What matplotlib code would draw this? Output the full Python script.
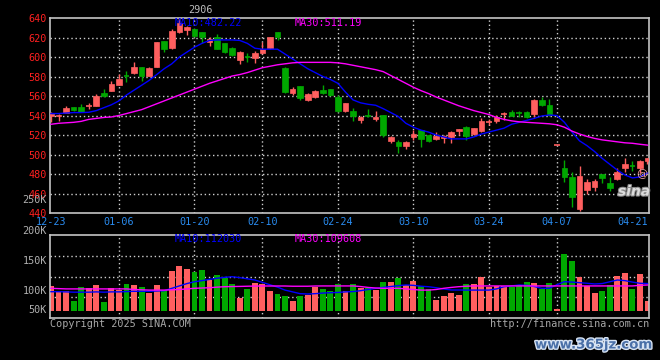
import matplotlib
matplotlib.use("Agg")
import matplotlib.pyplot as plt
import matplotlib.transforms as mtransforms
import matplotlib.patheffects as pe
from matplotlib.patches import Rectangle

# ---- data (one candle per trading day, 12-23 .. 04-22) ----
opens = [540, 539.5, 543, 548.4, 548.4, 549.5, 550, 563.4, 565, 571.3,
         580.8, 583.6, 589.7, 581, 590, 616.4, 609.5, 626, 627.7, 628.4,
         625.3, 615, 620.8, 614, 609.5, 597, 600, 599.3, 603.8, 609,
         626, 589, 562.8, 570.3, 556, 559.3, 566.5, 567.2, 559, 544.6,
         545, 535.4, 540, 536.4, 540.5, 514, 513, 508.7, 517.6, 525,
         520, 515.6, 517.2, 517.6, 524.5, 528, 521, 524, 533.3, 534.7,
         540.8, 543.3, 542.4, 544, 541.2, 556, 550.8, 509.7, 486.5, 476.6,
         443.8, 463.6, 467, 480, 470.5, 475, 486.5, 488.4, 486, 493.3]
closes = [542, 540.5, 547.4, 545.6, 544, 550.3, 560, 560, 572.3, 577.4,
          580.2, 589.7, 580.2, 589, 615, 608, 626.7, 634.6, 631, 621.5,
          620.8, 618.5, 608.2, 605.4, 602, 605.4, 599.5, 604.4, 608.5, 620.8,
          621, 564, 567.2, 557.6, 562, 565.4, 563, 561, 545, 552.5,
          539, 538.2, 539.6, 538.8, 520, 518.3, 508.7, 513, 521, 515.6,
          514.2, 519.3, 519, 523.4, 526, 519, 527, 534.4, 534, 538.8,
          541.4, 539.5, 542, 538, 556, 550.8, 540.5, 509.7, 476.6, 456.7,
          478, 471.5, 473.2, 476.2, 466, 482.4, 490, 488, 493.3, 496]
highs = [544, 542, 549.7, 548.4, 551.5, 553, 561.7, 567, 575.7, 582.2,
         585.6, 594.9, 590, 589.5, 615.5, 616.4, 628.7, 639.7, 632, 629,
         626, 620.8, 623.3, 614.5, 610, 606, 603.8, 606, 615, 621,
         626, 590, 569, 570.3, 563, 566, 571, 567.5, 561, 553,
         548, 539, 546.4, 545, 541, 519, 514.5, 514, 525, 525.5,
         520.5, 523, 520, 524, 526.5, 529.5, 527.5, 537, 536, 540.5,
         543.2, 545.5, 544.5, 544.5, 557, 558.5, 556.6, 509.7, 494.4, 482.4,
         488.2, 474.6, 474.5, 480.5, 476.6, 486, 496, 493.3, 494.5, 496.5]
lows = [533, 534.5, 543, 544.3, 543.5, 547, 550, 559.3, 565, 571,
        574.7, 583, 575.7, 580.5, 589.5, 605.4, 608, 624.5, 622.6, 621,
        614.7, 611.6, 608, 603.8, 601, 592.5, 595.2, 594, 603, 608.5,
        617.4, 563, 561, 556, 555, 558, 562, 560.5, 544, 544,
        534.7, 532.6, 538.2, 534.7, 518.3, 512, 501.8, 506, 515, 507.4,
        513, 515, 511.5, 511.5, 520, 515, 520.5, 523.5, 530, 532.5,
        535.5, 539, 538.2, 537.5, 538.2, 550, 540, 509.7, 472, 446.5,
        442.4, 459.5, 462.5, 471, 462.8, 474, 482.4, 483, 481, 490.5]
ma10 = [542, 542, 542.5, 543, 543, 543.3, 545, 548, 551, 555,
        561, 566, 571, 576, 582, 588, 593, 600, 605, 610,
        614, 617, 617.5, 617.5, 617.5, 617, 614, 609, 608, 608,
        608, 603, 598, 593, 588, 584, 580, 577, 573, 564,
        556, 553, 551.5, 550.5, 547, 543, 539, 532, 528, 525,
        523, 520, 518, 516, 516, 516, 518, 521, 523, 525,
        527, 531, 533, 535, 537, 539.5, 540.5, 540, 533, 523,
        514, 509, 503, 496, 490, 484, 479, 476, 477, 481]
ma30 = [531, 532, 532.5, 533, 534, 536, 537, 538, 538.5, 540,
        542, 544, 546, 549, 552, 555, 558, 561, 564, 567,
        570, 573, 575.5, 578, 580.5, 582, 584, 586.5, 589, 590.5,
        592, 593, 594, 594.5, 594.5, 594.5, 594.5, 594.5, 594, 593,
        591.5, 590, 588.5, 587, 585, 581, 577, 573, 569, 565.5,
        562.5, 559, 556, 553, 550, 547.5, 545, 543, 541, 538,
        536, 534.5, 533.5, 533, 532.5, 532, 531.5, 530.5, 528, 524,
        521, 518.5, 516.5, 515, 514, 513, 512, 511.5, 510.5, 509.6]
volume = [107.9, 99.5, 99.5, 82.7, 106.2, 104, 109.6, 81, 104, 101.2,
          111.3, 109.6, 105.7, 96.6, 109.6, 101.2, 133.2, 141.6, 136.5, 131,
          134.9, 118, 126.4, 121.9, 111.3, 88.2, 102.9, 113.5, 111.3, 99.5,
          94.4, 91, 83.2, 91, 92.8, 105.7, 102.9, 99.5, 111.3, 99.5,
          111.3, 104.5, 104.5, 101.2, 114.7, 114.7, 121.4, 109.6, 116.3, 107.9,
          102.9, 84.3, 91, 96.1, 92.8, 111.3, 111.3, 123.1, 106.2, 107.9,
          107.9, 106.2, 109.6, 114.7, 113, 102.9, 113, 69.2, 161.8, 150,
          123.1, 107.9, 96.1, 99.5, 109.6, 124.8, 129.8, 102.9, 128.1, 82.7]
vol_ma10 = [98.3, 98.3, 98, 97.5, 97.5, 97.5, 98, 97.5, 98, 98,
            98.5, 99, 99, 99, 99.5, 100, 104, 108, 112, 115,
            117, 119, 121, 122.5, 123.5, 122, 120, 118, 114, 110,
            106, 101, 98, 95, 94.4, 95, 96, 96.6, 97, 98,
            98.5, 100, 102, 104, 105.5, 107, 108.5, 109.6, 109, 107.5,
            106.7, 105, 103, 101.2, 101.2, 101, 101, 101, 101, 103,
            106.7, 108, 109.6, 109, 107, 104, 104, 110, 115.2, 114.5,
            113.5, 112.5, 111.3, 112, 115, 118, 117, 114.5, 112.5, 112]
vol_ma30 = [104, 103.5, 103, 103, 103, 103, 103, 103, 103, 103,
            103, 102, 101.5, 101, 101, 101, 101.5, 102, 103, 104,
            104.5, 105, 106, 106.7, 107, 107.2, 107.5, 107.8, 107.9, 107.9,
            107.9, 107.9, 107.5, 107.5, 107.5, 107.9, 108, 108, 108, 108,
            108, 107, 105.5, 104.5, 104, 104, 104, 103, 102, 101,
            101, 102, 104, 105.5, 106.7, 107.5, 108, 108, 108, 108,
            108, 108, 108, 108, 108, 108, 108, 108, 108, 108,
            108, 108, 108, 108, 108, 108, 108, 108, 109, 109.6]
date_labels = ['12-23', '01-06', '01-20', '02-10', '02-24', '03-10', '03-24', '04-07', '04-21']
date_index = [0, 9, 19, 28, 38, 48, 58, 67, 77]
price_ticks = [440, 460, 480, 500, 520, 540, 560, 580, 600, 620, 640]

RED = '#ff5f5f'
GREEN = '#00a800'
GRID = '#cfcfcf'
BORDER = '#c4c4c4'
MONO = 'DejaVu Sans Mono'
FS = 7.3

W, H = 660, 360
fig = plt.figure(figsize=(6.6, 3.6), dpi=100, facecolor='black')
ax = fig.add_axes([50 / W, 1 - 213 / H, 599 / W, 195 / H], facecolor='black')
axv = fig.add_axes([50 / W, 1 - 318 / H, 599 / W, 83 / H], facecolor='black')

n = len(closes)
for a in (ax, axv):
    a.set_xlim(-0.13, 79.2)
    for s in a.spines.values():
        s.set_color(BORDER)
        s.set_linewidth(1.2)
    a.set_xticks([])
    for k in date_index[1:-1]:
        a.axvline(k, color=GRID, lw=1, ls=(0, (1, 2)), zorder=1)

# ---- price panel ----
ax.set_ylim(440, 640)
ax.set_yticks(price_ticks)
ax.set_yticklabels([str(p) for p in price_ticks], color='#ff2020', fontsize=FS, family=MONO)
ax.tick_params(axis='y', length=0, pad=2.2)
for p in price_ticks[1:-1]:
    ax.axhline(p, color=GRID, lw=1, ls=(0, (1, 2)), zorder=1)

bw = 0.74
for i in range(n):
    o, c, h, l = opens[i], closes[i], highs[i], lows[i]
    col = RED if c >= o else GREEN
    ax.vlines(i, l, h, color=col, lw=1, zorder=3)
    if abs(c - o) < 0.8:
        ax.hlines((o + c) / 2, i - bw / 2, i + bw / 2, color=col, lw=1.2, zorder=3)
    else:
        ax.add_patch(Rectangle((i - bw / 2, min(o, c)), bw, abs(c - o),
                               facecolor=col, edgecolor=col, lw=0.5, zorder=3))

x = list(range(n))
ax.plot(x, ma10, color='#0000ff', lw=1, zorder=4)
ax.plot(x, ma30, color='#ff00ff', lw=1, zorder=4)

ax.text(0.208, 0.975, 'MA10:482.22', transform=ax.transAxes, color='#0000ff',
        fontsize=FS, family=MONO, va='center')
ax.text(0.408, 0.975, 'MA30:511.19', transform=ax.transAxes, color='#ff00ff',
        fontsize=FS, family=MONO, va='center')
fig.text(200 / W, 1 - 10 / H, '2906', color='#bdbdbd', fontsize=FS, family=MONO,
         ha='center', va='center')

for lab, k in zip(date_labels, date_index):
    ax.text(k, -0.046, lab, transform=mtransforms.blended_transform_factory(ax.transData, ax.transAxes),
            color='#2a8cf0', fontsize=FS, family=MONO, ha='center', va='center', clip_on=False)
ax.text(-0.005, 0.067, '250K', transform=ax.transAxes, color='#b0b0b0', fontsize=FS,
        family=MONO, ha='right', va='center')

# sina logo
ax.text(0.975, 0.11, 'sina', transform=ax.transAxes, color='#dcdcdc', fontsize=10,
        fontweight='bold', style='italic', ha='center', va='center', zorder=5,
        path_effects=[pe.withStroke(linewidth=1.5, foreground='#888888')])
ax.text(0.988, 0.2, '@', transform=ax.transAxes, color='#f0a0a0', fontsize=8,
        ha='center', va='center', zorder=5)

# ---- volume panel ----
vbase = 66.3
axv.set_ylim(54.0, 193.8)
axv.set_yticks([])
for f in (0.25, 0.5, 0.75):
    axv.plot([0, 1], [f, f], transform=axv.transAxes, color=GRID, lw=1, ls=(0, (1, 2)), zorder=1)
vcols = [RED if closes[i] >= opens[i] else GREEN for i in range(n)]
axv.bar(x, [v - vbase for v in volume], bottom=vbase, width=0.78, color=vcols, zorder=2)
axv.plot(x, vol_ma10, color='#0000ff', lw=1, zorder=3)
axv.plot(x, vol_ma30, color='#ff00ff', lw=1, zorder=3)

for lab, f in zip(['200K', '150K', '100K', '50K'], [1.048, 0.686, 0.329, 0.096]):
    axv.text(-0.005, f, lab, transform=axv.transAxes, color='#b0b0b0', fontsize=FS,
             family=MONO, ha='right', va='center', clip_on=False)
axv.text(0.208, 0.955, 'MA10:112030', transform=axv.transAxes, color='#0000ff',
         fontsize=FS, family=MONO, va='center')
axv.text(0.408, 0.955, 'MA30:109608', transform=axv.transAxes, color='#ff00ff',
         fontsize=FS, family=MONO, va='center')

fig.text(50 / W, 1 - 324 / H, 'Copyright 2025 SINA.COM', color='#a8a8a8', fontsize=FS,
         family=MONO, va='center')
fig.text(649 / W, 1 - 324 / H, 'http://finance.sina.com.cn', color='#a8a8a8', fontsize=FS,
         family=MONO, ha='right', va='center')
fig.text(594 / W, 1 - 345 / H, 'www.365jz.com', color='#4a70a8', fontsize=9.6,
         fontweight='bold', ha='center', va='center',
         path_effects=[pe.withStroke(linewidth=2, foreground='#d8e4f4')])

plt.savefig('out.png', dpi=100, facecolor='black')
